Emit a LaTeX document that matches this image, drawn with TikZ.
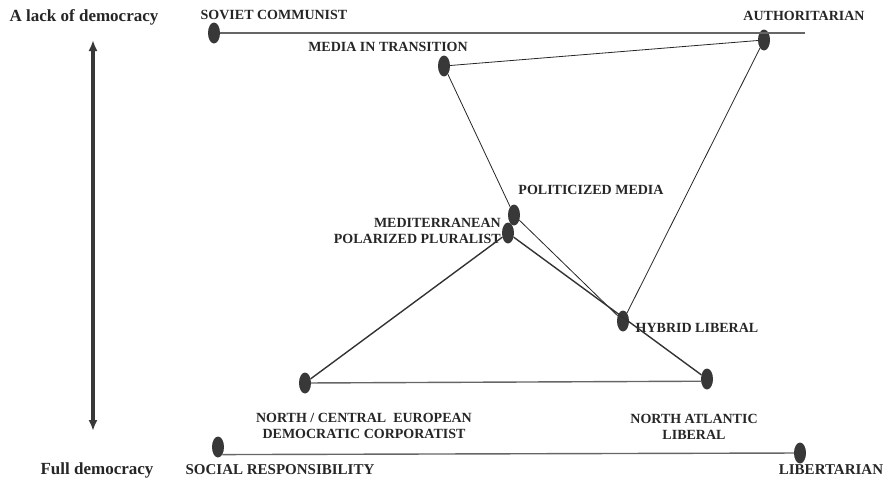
\documentclass[tikz,border=0pt]{standalone}
\usepackage{fontspec}
\setmainfont{Liberation Serif}
\usetikzlibrary{arrows.meta, shapes.geometric}

\begin{document}
\begin{tikzpicture}[x=1pt, y=-1pt,
  dot/.style={ellipse, fill=black!78, minimum width=12pt, minimum height=21pt, inner sep=0pt},
  lab/.style={font=\fontsize{14}{16}\selectfont\bfseries, inner sep=0pt, align=center, text=black!85},
  biglab/.style={lab, font=\fontsize{17}{19}\selectfont\bfseries},
  lowlab/.style={lab, font=\fontsize{15}{17}\selectfont\bfseries},
  link/.style={draw=black!85, line width=0.8pt},
  heavy/.style={draw=black!80, line width=1.4pt}]
\useasboundingbox (0,0) rectangle (891,482);
% models
\node[dot] (soviet) at (214,33) {};
\node[dot] (auth) at (764,40) {};
\node[dot] (transit) at (444,66) {};
\node[dot] (polit) at (514,215) {};
\node[dot] (medit) at (508,233) {};
\node[dot] (hybrid) at (623,321) {};
\node[dot] (northc) at (305,383) {};
\node[dot] (northa) at (707,379) {};
\node[dot] (social) at (218,447) {};
\node[dot] (libert) at (800,453) {};
\coordinate (topend) at (805,33);
% texts
\node[biglab] (tlack) at (84,17) {A lack of democracy};
\node[biglab] (tfull) at (97,470) {Full democracy};
\node[lab] (tsoviet) at (274,15) {SOVIET COMMUNIST};
\node[lab] (tauth) at (804,16) {AUTHORITARIAN};
\node[lab] (ttransit) at (388,47) {MEDIA IN TRANSITION};
\node[lab] (tpolit) at (591,190) {POLITICIZED MEDIA};
\node[lab, align=right, anchor=east] (tmedit) at (501,231) {MEDITERRANEAN\\POLARIZED PLURALIST};
\node[lab] (thybrid) at (697,328) {HYBRID LIBERAL};
\node[lab] (tnorthc) at (364,426) {NORTH / CENTRAL\ \ EUROPEAN\\DEMOCRATIC CORPORATIST};
\node[lab] (tnortha) at (694,427) {NORTH ATLANTIC\\LIBERAL};
\node[lowlab] (tsocial) at (280,470) {SOCIAL RESPONSIBILITY};
\node[lowlab] (tlibert) at (831,470) {LIBERTARIAN};
% axis
\coordinate (up) at (93,40);
\coordinate (down) at (93,431);
\draw [{Latex[length=11pt,width=9pt]}-{Latex[length=11pt,width=9pt]}, line width=4pt, black!78] (up) -- (down);
% links
\draw [heavy, draw=black!60] (soviet) -- (topend);
\draw [link] (transit) -- (auth);
\draw [link] (transit) -- (polit);
\draw [link] (auth) -- (hybrid);
\draw [link] (polit) -- (hybrid);
\draw [heavy] (medit) -- (northa);
\draw [heavy] (medit) -- (northc);
\draw [heavy, draw=black!60] (northc) -- (northa.200);
\draw [heavy, draw=black!60] (social.-60) -- (libert);
\end{tikzpicture}
\end{document}
